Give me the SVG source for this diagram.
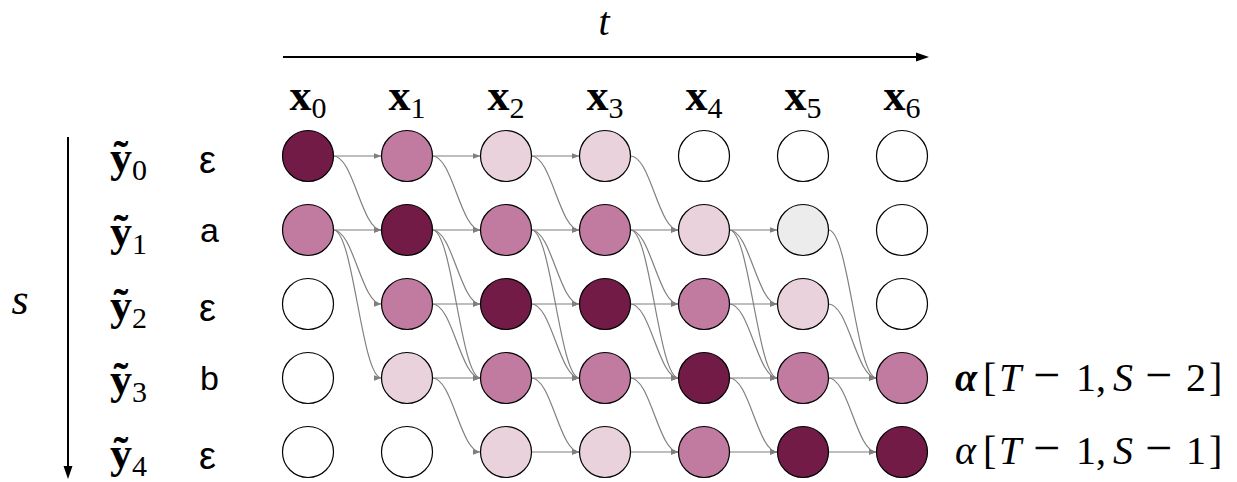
<svg xmlns="http://www.w3.org/2000/svg" width="1237" height="482" viewBox="0 0 1237 482">
<style>
.n{stroke:#000;stroke-width:1.2}
.D{fill:#721b46}.M{fill:#c17aa0}.L{fill:#ead2dc}.G{fill:#ececec}.W{fill:#fff}
.e{fill:none;stroke:#7f7f7f;stroke-width:1.2;marker-end:url(#ah)}
.ser{font-family:"Liberation Serif","Times New Roman",serif;fill:#000}
.san{font-family:"Liberation Sans",Arial,sans-serif;font-size:34px;fill:#000}
.eps{font-size:38px}
.bx{font-weight:bold;font-size:44px}
.sub{font-weight:normal;font-size:30px}
.it{font-style:italic}
.m{font-size:40px}
.mi{font-size:48px}
</style>
<defs>
<marker id="ah" markerUnits="userSpaceOnUse" markerWidth="9" markerHeight="7" refX="8" refY="3.5" orient="auto">
<path d="M0,0.5L8,3.5L0,6.5z" fill="#7f7f7f"/>
</marker>
</defs>
<rect width="1237" height="482" fill="#fff"/>
<g id="axis-t">
<line x1="283" y1="57" x2="918" y2="57" stroke="#000" stroke-width="2"/>
<polygon points="929,57 916,52.5 916,61.5" fill="#000"/>
<text class="ser it" x="604" y="35" font-size="40" text-anchor="middle">t</text>
</g>
<g id="axis-s">
<line x1="68" y1="137" x2="68" y2="467" stroke="#000" stroke-width="2"/>
<polygon points="68,479 63.5,466 72.5,466" fill="#000"/>
<text class="ser it" x="20" y="314" font-size="44" text-anchor="middle">s</text>
</g>
<g id="col-labels" class="ser">
<text x="308" y="110" text-anchor="middle"><tspan class="bx">x</tspan><tspan class="sub" dy="8">0</tspan></text>
<text x="407" y="110" text-anchor="middle"><tspan class="bx">x</tspan><tspan class="sub" dy="8">1</tspan></text>
<text x="506" y="110" text-anchor="middle"><tspan class="bx">x</tspan><tspan class="sub" dy="8">2</tspan></text>
<text x="605" y="110" text-anchor="middle"><tspan class="bx">x</tspan><tspan class="sub" dy="8">3</tspan></text>
<text x="704" y="110" text-anchor="middle"><tspan class="bx">x</tspan><tspan class="sub" dy="8">4</tspan></text>
<text x="803" y="110" text-anchor="middle"><tspan class="bx">x</tspan><tspan class="sub" dy="8">5</tspan></text>
<text x="902" y="110" text-anchor="middle"><tspan class="bx">x</tspan><tspan class="sub" dy="8">6</tspan></text>
</g>
<g id="row-labels" class="ser">
<text x="110" y="172"><tspan class="bx" font-size="46">ỹ</tspan><tspan class="sub" dy="8">0</tspan></text>
<text x="110" y="246"><tspan class="bx" font-size="46">ỹ</tspan><tspan class="sub" dy="8">1</tspan></text>
<text x="110" y="320"><tspan class="bx" font-size="46">ỹ</tspan><tspan class="sub" dy="8">2</tspan></text>
<text x="110" y="394"><tspan class="bx" font-size="46">ỹ</tspan><tspan class="sub" dy="8">3</tspan></text>
<text x="110" y="468"><tspan class="bx" font-size="46">ỹ</tspan><tspan class="sub" dy="8">4</tspan></text>
</g>
<g id="symbols" class="san">
<text class="eps" x="199" y="173">ε</text>
<text x="200" y="242">a</text>
<text class="eps" x="199" y="321">ε</text>
<text x="200" y="390">b</text>
<text class="eps" x="199" y="469">ε</text>
</g>
<g id="connectors">
<path class="e" d="M333.5,156H381.5"/>
<path class="e" d="M333.5,230H381.5"/>
<path class="e" d="M333.5,156C353.5,156 361.5,230 381.5,230"/>
<path class="e" d="M333.5,230C353.5,230 361.5,304 381.5,304"/>
<path class="e" d="M333.5,230C353.5,230 361.5,378 381.5,378"/>

<path class="e" d="M432.5,156H480.5"/>
<path class="e" d="M432.5,230H480.5"/>
<path class="e" d="M432.5,304H480.5"/>
<path class="e" d="M432.5,378H480.5"/>
<path class="e" d="M432.5,156C452.5,156 460.5,230 480.5,230"/>
<path class="e" d="M432.5,230C452.5,230 460.5,304 480.5,304"/>
<path class="e" d="M432.5,230C452.5,230 460.5,378 480.5,378"/>
<path class="e" d="M432.5,304C452.5,304 460.5,378 480.5,378"/>
<path class="e" d="M432.5,378C452.5,378 460.5,452 480.5,452"/>

<path class="e" d="M531.5,156H579.5"/>
<path class="e" d="M531.5,230H579.5"/>
<path class="e" d="M531.5,304H579.5"/>
<path class="e" d="M531.5,378H579.5"/>
<path class="e" d="M531.5,452H579.5"/>
<path class="e" d="M531.5,156C551.5,156 559.5,230 579.5,230"/>
<path class="e" d="M531.5,230C551.5,230 559.5,304 579.5,304"/>
<path class="e" d="M531.5,230C551.5,230 559.5,378 579.5,378"/>
<path class="e" d="M531.5,304C551.5,304 559.5,378 579.5,378"/>
<path class="e" d="M531.5,378C551.5,378 559.5,452 579.5,452"/>

<path class="e" d="M630.5,230H678.5"/>
<path class="e" d="M630.5,304H678.5"/>
<path class="e" d="M630.5,378H678.5"/>
<path class="e" d="M630.5,452H678.5"/>
<path class="e" d="M630.5,156C650.5,156 658.5,230 678.5,230"/>
<path class="e" d="M630.5,230C650.5,230 658.5,304 678.5,304"/>
<path class="e" d="M630.5,230C650.5,230 658.5,378 678.5,378"/>
<path class="e" d="M630.5,304C650.5,304 658.5,378 678.5,378"/>
<path class="e" d="M630.5,378C650.5,378 658.5,452 678.5,452"/>

<path class="e" d="M729.5,230H777.5"/>
<path class="e" d="M729.5,304H777.5"/>
<path class="e" d="M729.5,378H777.5"/>
<path class="e" d="M729.5,452H777.5"/>
<path class="e" d="M729.5,230C749.5,230 757.5,304 777.5,304"/>
<path class="e" d="M729.5,230C749.5,230 757.5,378 777.5,378"/>
<path class="e" d="M729.5,304C749.5,304 757.5,378 777.5,378"/>
<path class="e" d="M729.5,378C749.5,378 757.5,452 777.5,452"/>

<path class="e" d="M828.5,378H876.5"/>
<path class="e" d="M828.5,452H876.5"/>
<path class="e" d="M828.5,230C848.5,230 856.5,378 876.5,378"/>
<path class="e" d="M828.5,304C848.5,304 856.5,378 876.5,378"/>
<path class="e" d="M828.5,378C848.5,378 856.5,452 876.5,452"/>
</g>
<g id="n-0-0"><circle class="n D" cx="308" cy="156" r="25.5"/></g>
<g id="n-1-0"><circle class="n M" cx="407" cy="156" r="25.5"/></g>
<g id="n-2-0"><circle class="n L" cx="506" cy="156" r="25.5"/></g>
<g id="n-3-0"><circle class="n L" cx="605" cy="156" r="25.5"/></g>
<g id="n-4-0"><circle class="n W" cx="704" cy="156" r="25.5"/></g>
<g id="n-5-0"><circle class="n W" cx="803" cy="156" r="25.5"/></g>
<g id="n-6-0"><circle class="n W" cx="902" cy="156" r="25.5"/></g>

<g id="n-0-1"><circle class="n M" cx="308" cy="230" r="25.5"/></g>
<g id="n-1-1"><circle class="n D" cx="407" cy="230" r="25.5"/></g>
<g id="n-2-1"><circle class="n M" cx="506" cy="230" r="25.5"/></g>
<g id="n-3-1"><circle class="n M" cx="605" cy="230" r="25.5"/></g>
<g id="n-4-1"><circle class="n L" cx="704" cy="230" r="25.5"/></g>
<g id="n-5-1"><circle class="n G" cx="803" cy="230" r="25.5"/></g>
<g id="n-6-1"><circle class="n W" cx="902" cy="230" r="25.5"/></g>

<g id="n-0-2"><circle class="n W" cx="308" cy="304" r="25.5"/></g>
<g id="n-1-2"><circle class="n M" cx="407" cy="304" r="25.5"/></g>
<g id="n-2-2"><circle class="n D" cx="506" cy="304" r="25.5"/></g>
<g id="n-3-2"><circle class="n D" cx="605" cy="304" r="25.5"/></g>
<g id="n-4-2"><circle class="n M" cx="704" cy="304" r="25.5"/></g>
<g id="n-5-2"><circle class="n L" cx="803" cy="304" r="25.5"/></g>
<g id="n-6-2"><circle class="n W" cx="902" cy="304" r="25.5"/></g>

<g id="n-0-3"><circle class="n W" cx="308" cy="378" r="25.5"/></g>
<g id="n-1-3"><circle class="n L" cx="407" cy="378" r="25.5"/></g>
<g id="n-2-3"><circle class="n M" cx="506" cy="378" r="25.5"/></g>
<g id="n-3-3"><circle class="n M" cx="605" cy="378" r="25.5"/></g>
<g id="n-4-3"><circle class="n D" cx="704" cy="378" r="25.5"/></g>
<g id="n-5-3"><circle class="n M" cx="803" cy="378" r="25.5"/></g>
<g id="n-6-3"><circle class="n M" cx="902" cy="378" r="25.5"/></g>

<g id="n-0-4"><circle class="n W" cx="308" cy="452" r="25.5"/></g>
<g id="n-1-4"><circle class="n W" cx="407" cy="452" r="25.5"/></g>
<g id="n-2-4"><circle class="n L" cx="506" cy="452" r="25.5"/></g>
<g id="n-3-4"><circle class="n L" cx="605" cy="452" r="25.5"/></g>
<g id="n-4-4"><circle class="n M" cx="704" cy="452" r="25.5"/></g>
<g id="n-5-4"><circle class="n D" cx="803" cy="452" r="25.5"/></g>
<g id="n-6-4"><circle class="n D" cx="902" cy="452" r="25.5"/></g>

<g id="alpha-labels" class="ser m">
<text y="391"><tspan x="955" class="it" font-weight="bold">α</tspan><tspan x="983">[</tspan><tspan x="999" class="it">T</tspan><tspan x="1033" class="mi">−</tspan><tspan x="1076">1</tspan><tspan x="1096">,</tspan><tspan x="1113" class="it">S</tspan><tspan x="1145" class="mi">−</tspan><tspan x="1186">2</tspan><tspan x="1209">]</tspan></text>
<text y="464"><tspan x="955" class="it">α</tspan><tspan x="983">[</tspan><tspan x="999" class="it">T</tspan><tspan x="1033" class="mi">−</tspan><tspan x="1076">1</tspan><tspan x="1096">,</tspan><tspan x="1113" class="it">S</tspan><tspan x="1145" class="mi">−</tspan><tspan x="1186">1</tspan><tspan x="1209">]</tspan></text>
</g>
</svg>
